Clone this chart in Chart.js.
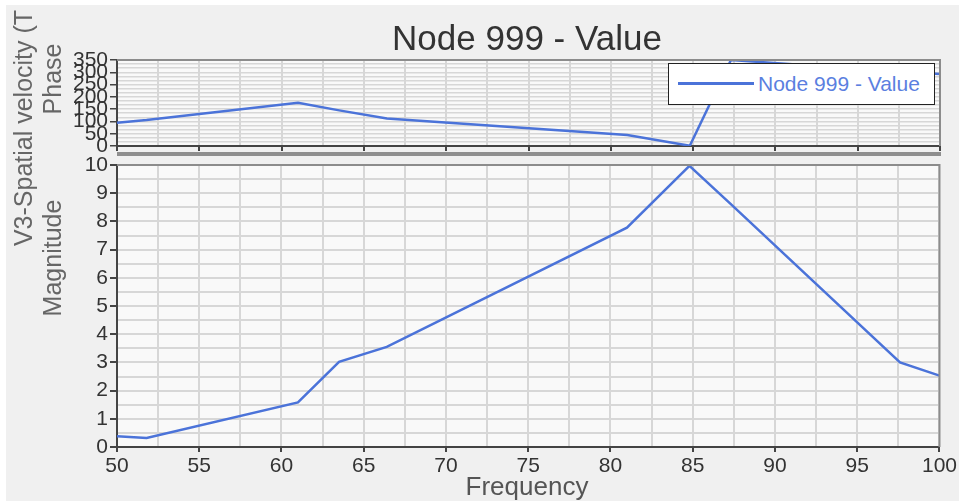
<!DOCTYPE html>
<html>
<head>
<meta charset="utf-8">
<title>Node 999 - Value</title>
<script src="https://cdn.jsdelivr.net/npm/chart.js@4.4.1/dist/chart.umd.min.js"></script>
<style>
    html, body { margin: 0; padding: 0; background: #fff; }
    #wrap { position: absolute; left: 0; top: 0; width: 959px; height: 501px; overflow: hidden;
            font-family: 'Liberation Sans', Arial, sans-serif; }
    #bg { position: absolute; left: 6px; top: 5px; width: 953px; height: 496px; background: #f0f0f0; }
    canvas { position: absolute; left: 0; }
    #phaseChart { top: 0; }
    #magChart { top: 140px; }
    .title { position: absolute; left: 527px; top: 20px; transform: translateX(-50%);
             font-size: 35px; line-height: 35px; color: #333; white-space: nowrap; }
    .xtitle { position: absolute; left: 527px; top: 473px; transform: translateX(-50%);
              font-size: 26px; line-height: 26px; color: #555; white-space: nowrap; }
    .rot { position: absolute; transform: translate(-50%, -50%) rotate(-90deg);
           font-size: 25px; line-height: 25px; color: #666; white-space: nowrap; }
    .legend { position: absolute; left: 668px; top: 63px; width: 267px; height: 42px; box-sizing: border-box;
              background: #fff; border: 1.5px solid #222; }
    .legend .swatch { position: absolute; left: 9px; top: 18px; width: 76px; height: 3px; background: #4b73d9; }
    .legend .label { position: absolute; left: 89px; top: 8px; font-size: 21px; line-height: 24px; color: #5b7fe0; white-space: nowrap; }
</style>
</head>
<body>
<div id="wrap">
    <div id="bg"></div>
    <canvas id="phaseChart" width="959" height="170"></canvas>
    <canvas id="magChart" width="959" height="361"></canvas>
    <div class="title">Node 999 - Value</div>
    <div class="xtitle">Frequency</div>
    <div class="rot" style="left:23px; top:128px;">V3-Spatial velocity (T</div>
    <div class="rot" style="left:52px; top:79px;">Phase</div>
    <div class="rot" style="left:52px; top:258px;">Magnitude</div>
    <div class="legend"><div class="swatch"></div><div class="label">Node 999 - Value</div></div>
</div>
<script>
    // values
    const freq      = [50, 51.8, 61, 63.5, 66.4, 81, 84.8, 87.3, 97.6, 100];
    const magnitude = [0.38, 0.32, 1.58, 3.02, 3.55, 7.78, 9.97, 8.62, 3.0, 2.53];
    const phase     = [95, 106, 176, 145, 112, 45, 1, 350, 302, 293];

    const freqTicks  = [50, 55, 60, 65, 70, 75, 80, 85, 90, 95, 100];
    const magTicks   = [0, 1, 2, 3, 4, 5, 6, 7, 8, 9, 10];
    const phaseTicks = [0, 50, 100, 150, 200, 250, 300, 350];

    const LINE_COLOR = '#4b73d9';
    const FONT = "'Liberation Sans', Arial, sans-serif";

    Chart.defaults.font.family = FONT;

    const isTick = (list, v) => list.some(t => Math.abs(t - v) < 1e-6);

    // plot background, top/right frame, and the grey band under the phase panel
    const panelFrame = {
        id: 'panelFrame',
        beforeDraw(chart) {
            const a = chart.chartArea, ctx = chart.ctx;
            ctx.save();
            ctx.fillStyle = '#f9f9f9';
            ctx.fillRect(a.left, a.top, a.right - a.left, a.bottom - a.top);
            ctx.restore();
        },
        afterDraw(chart, args, opts) {
            const a = chart.chartArea, ctx = chart.ctx;
            ctx.save();
            ctx.strokeStyle = '#8c8c8c';
            ctx.lineWidth = 2;
            ctx.beginPath();
            ctx.moveTo(a.left, a.top);
            ctx.lineTo(a.right, a.top);
            ctx.lineTo(a.right, a.bottom);
            ctx.stroke();
            if (opts.band) {
                ctx.fillStyle = '#8e8e8e';
                ctx.fillRect(a.left, a.bottom + 6, a.right - a.left + 1, 4);
            }
            ctx.restore();
        }
    };

    function xScale(showLabels, height) {
        return {
            type: 'linear',
            min: 50,
            max: 100,
            afterFit: s => { s.height = height; },
            ticks: {
                display: showLabels,
                stepSize: 2.5,
                autoSkip: false,
                maxRotation: 0,
                padding: 2,
                color: '#333',
                font: { size: 21 },
                callback: v => isTick(freqTicks, v) ? v : ''
            },
            grid: {
                color: '#d7d7d7',
                lineWidth: 2,
                tickLength: 5,
                tickColor: c => isTick(freqTicks, c.tick.value) ? '#444' : 'rgba(0,0,0,0)'
            },
            border: { color: '#444', width: 2 }
        };
    }

    function yScale(max, step, tickList, gridWidth) {
        return {
            min: 0,
            max: max,
            afterFit: s => { s.width = 117; },
            ticks: {
                stepSize: step,
                autoSkip: false,
                padding: 2,
                color: '#333',
                font: { size: 21 },
                callback: v => isTick(tickList, v) ? Math.round(v) : ''
            },
            grid: {
                color: '#d7d7d7',
                lineWidth: gridWidth,
                tickLength: 7,
                tickColor: c => isTick(tickList, c.tick.value) ? '#444' : 'rgba(0,0,0,0)'
            },
            border: { color: '#444', width: 2 }
        };
    }

    function lineDataset(values) {
        return {
            label: 'Node 999 - Value',
            data: freq.map((f, i) => ({ x: f, y: values[i] })),
            borderColor: LINE_COLOR,
            borderWidth: 2.5,
            pointRadius: 0,
            tension: 0,
            fill: false
        };
    }

    new Chart(document.getElementById('phaseChart'), {
        type: 'line',
        data: { datasets: [lineDataset(phase)] },
        options: {
            responsive: false,
            animation: false,
            devicePixelRatio: 1,
            layout: { padding: { left: 0, right: 19, top: 60, bottom: 0 } },
            plugins: {
                legend: { display: false },
                tooltip: { enabled: false },
                panelFrame: { band: true }
            },
            scales: {
                x: xScale(false, 24),
                y: yScale(350, 50 / 3, phaseTicks, 1.5)
            }
        },
        plugins: [panelFrame]
    });

    new Chart(document.getElementById('magChart'), {
        type: 'line',
        data: { datasets: [lineDataset(magnitude)] },
        options: {
            responsive: false,
            animation: false,
            devicePixelRatio: 1,
            layout: { padding: { left: 0, right: 19, top: 25, bottom: 0 } },
            plugins: {
                legend: { display: false },
                tooltip: { enabled: false },
                panelFrame: { band: false }
            },
            scales: {
                x: xScale(true, 54),
                y: yScale(10, 0.5, magTicks, 2)
            }
        },
        plugins: [panelFrame]
    });
</script>
</body>
</html>
